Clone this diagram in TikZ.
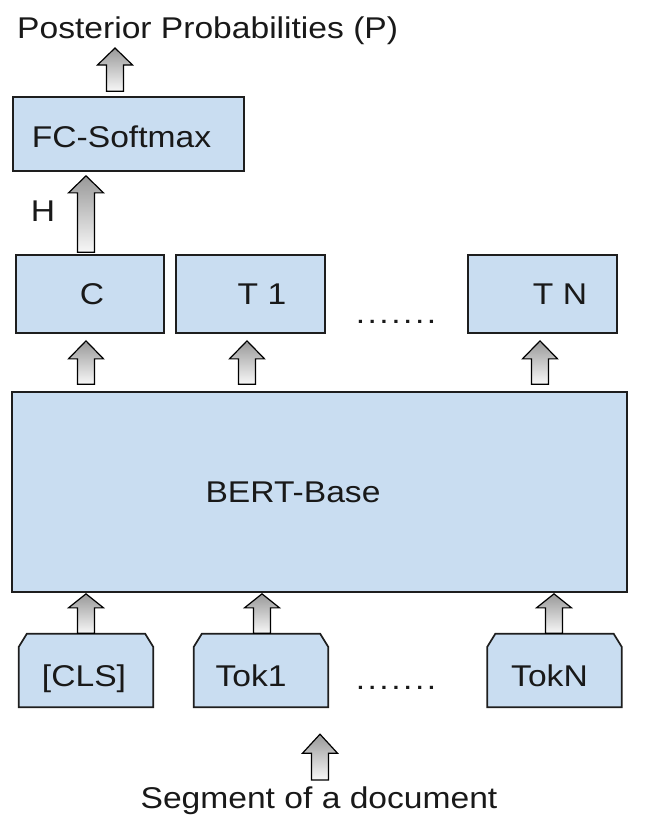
\documentclass[tikz,border=0pt]{standalone}
\usepackage{fontspec}
\setmainfont{Liberation Sans}[FakeStretch=1.12]
\usetikzlibrary{calc}
\pgfdeclarelayer{bg}
\pgfsetlayers{bg,main}
\definecolor{boxfill}{RGB}{201,221,241}
\definecolor{edge}{RGB}{30,30,30}
\definecolor{ink}{RGB}{25,25,25}
\tikzset{
  lbl/.style={font=\fontsize{30}{34}\selectfont, text=ink, inner sep=0pt},
  boxnode/.style={lbl, draw=edge, line width=1.7pt, fill=boxfill, text height=21.5pt, text depth=0pt},
  toknode/.style={lbl, minimum width=134pt, minimum height=73pt, text height=31pt, text depth=0pt},
  tokshape/.style={draw=edge, line width=1.7pt, fill=boxfill, line join=miter},
  blkarrow/.style={draw=black, line width=1.2pt, line join=miter, top color=black!40, bottom color=black!3},
}
% block arrow: #1 base (bottom centre), #2 tip, #3 head height
\newcommand\blkarr[3]{%
  \path[blkarrow] let \p1=#1, \p2=#2 in
    (\x1-8.5pt,\y1) -- (\x1-8.5pt,\y2-#3) -- (\x1-17.5pt,\y2-#3) -- (\x1,\y2)
    -- (\x1+17.5pt,\y2-#3) -- (\x1+8.5pt,\y2-#3) -- (\x1+8.5pt,\y1) -- cycle;}
% chamfered token outline around a named node
\newcommand\tokoutline[1]{%
  \path[tokshape] (#1.south west) -- ([yshift=-13pt]#1.north west) -- ([xshift=8pt]#1.north west)
    -- ([xshift=-8pt]#1.north east) -- ([yshift=-13pt]#1.north east) -- (#1.south east) -- cycle;}
\begin{document}
\begin{tikzpicture}[x=1pt,y=-1pt]
\useasboundingbox (0,0) rectangle (645,820);

% column coordinates for the arrows
\coordinate (kt) at (115,0);
\coordinate (k1) at (86,0);
\coordinate (k2) at (247,0);
\coordinate (k3) at (540,0);
\coordinate (m2) at (262,0);
\coordinate (m3) at (554,0);
\coordinate (kb) at (320,0);

% texts
\node[lbl, anchor=base west] (title) at (17,38) {Posterior Probabilities (P)};
\node[lbl] (hlab) at (43,211) {H};
\node[lbl, anchor=base] (seg) at (319,808) {Segment of a document};

% boxes
\node[boxnode, minimum width=231pt, minimum height=74pt, text height=26pt] (fc) at (128.5,134) {FC-Softmax\hspace*{14pt}};
\node[boxnode, minimum width=148pt, minimum height=78pt] (c) at (90,294) {\hspace*{4pt}C};
\node[boxnode, minimum width=149pt, minimum height=78pt] (t1) at (250.5,294) {\hspace*{23pt}T 1};
\node[boxnode, minimum width=149pt, minimum height=78pt] (tn) at (542.5,294) {\hspace*{35pt}T N};
\node[lbl, anchor=base] (dots1) at (396,323) {.\kern2.5pt.\kern2.5pt.\kern2.5pt.\kern2.5pt.\kern2.5pt.\kern2.5pt.};
\node[boxnode, minimum width=615pt, minimum height=200pt] (bert) at (319.5,492) {BERT-Base\hspace*{53pt}};

% tokens
\node[toknode] (cls) at (86,670.5) {[CLS]\hspace*{4pt}};
\node[toknode] (tok1) at (261,670.5) {Tok1\hspace*{20pt}};
\node[toknode] (tokn) at (554.5,670.5) {TokN\hspace*{10pt}};
\node[lbl, anchor=base] (dots2) at (396,689) {.\kern2.5pt.\kern2.5pt.\kern2.5pt.\kern2.5pt.\kern2.5pt.\kern2.5pt.};
\begin{pgfonlayer}{bg}
  \fill[white] (0,0) rectangle (645,820);
  \tokoutline{cls}
  \tokoutline{tok1}
  \tokoutline{tokn}
\end{pgfonlayer}

% arrows
\blkarr{($(kt |- fc.north)+(0,-5)$)}{($(kt |- title.base)+(0,10)$)}{17pt}
\blkarr{($(k1 |- c.north)+(0,-2)$)}{($(k1 |- fc.south)+(0,4)$)}{17pt}
\blkarr{($(k1 |- bert.north)+(0,-7)$)}{($(k1 |- c.south)+(0,7)$)}{18pt}
\blkarr{($(k2 |- bert.north)+(0,-7)$)}{($(k2 |- t1.south)+(0,7)$)}{18pt}
\blkarr{($(k3 |- bert.north)+(0,-7)$)}{($(k3 |- tn.south)+(0,7)$)}{18pt}
\blkarr{($(k1 |- cls.north)+(0,-0.5)$)}{($(k1 |- bert.south)+(0,1)$)}{14pt}
\blkarr{($(m2 |- tok1.north)+(0,-0.5)$)}{($(m2 |- bert.south)+(0,1)$)}{14pt}
\blkarr{($(m3 |- tokn.north)+(0,-0.5)$)}{($(m3 |- bert.south)+(0,1)$)}{14pt}
\blkarr{($(kb |- seg.north)+(0,-6)$)}{($(kb |- cls.south)+(0,27)$)}{19pt}
\end{tikzpicture}
\end{document}
